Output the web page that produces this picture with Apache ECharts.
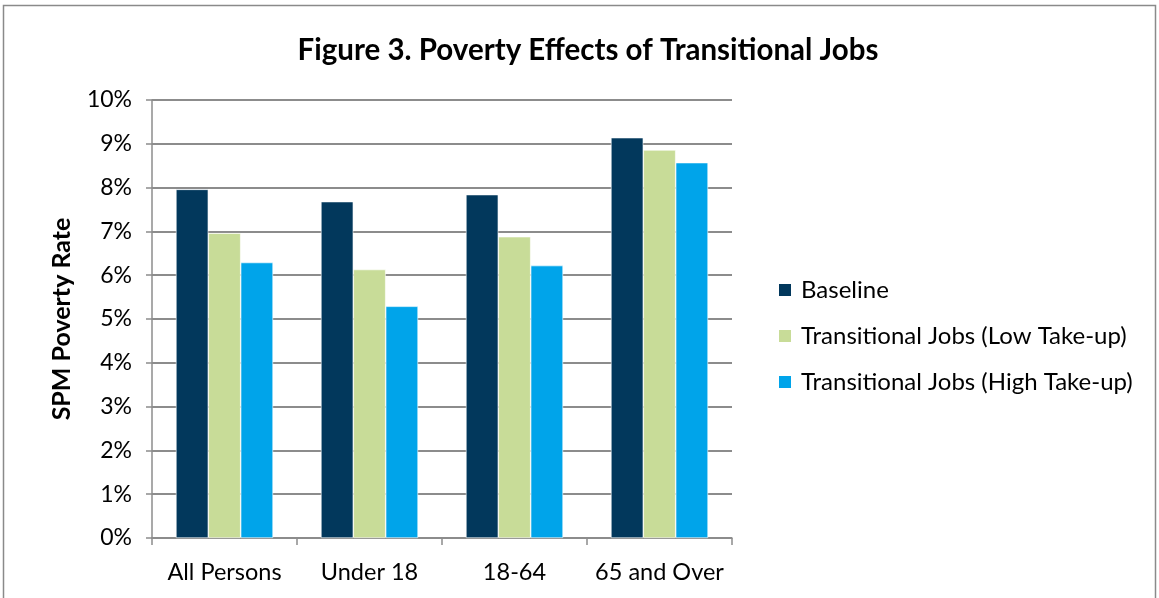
<!DOCTYPE html>
<html>
<head>
<meta charset="utf-8">
<script src="https://cdn.jsdelivr.net/npm/echarts@6/dist/echarts.min.js"></script>
<style>
  html, body { margin: 0; padding: 0; background: #fff; }
  #chart { width: 1159px; height: 598px; }
</style>
</head>
<body>
<div id="chart"></div>
<script>
// Age groups along the x axis
const categories = ['All Persons', 'Under 18', '18-64', '65 and Over'];

// SPM poverty rates, in percent
const baseline = [7.96, 7.68, 7.84, 9.14];
const lowTakeUp = [6.96, 6.13, 6.88, 8.86];
const highTakeUp = [6.29, 5.29, 6.22, 8.57];

const seriesNames = [
  'Baseline',
  'Transitional Jobs (Low Take-up)',
  'Transitional Jobs (High Take-up)'
];
const seriesColors = ['#02385C', '#C8DC98', '#00A4EA'];

const fontFamily = 'Lato, "Open Sans", sans-serif';
const gridGray = '#8C8C8C';

const chart = echarts.init(document.getElementById('chart'), null, { renderer: 'canvas' });

const makeBar = (name, data, color) => ({
  name: name,
  type: 'bar',
  data: data,
  barGap: '0%',
  barCategoryGap: '33%',
  itemStyle: { color: color, borderColor: '#ffffff', borderWidth: 0.6 }
});

chart.setOption({
  animation: false,
  backgroundColor: '#ffffff',
  textStyle: { fontFamily: fontFamily },
  graphic: [{
    type: 'rect',
    shape: { x: 3.5, y: 5.5, width: 1152, height: 620 },
    style: { fill: 'none', stroke: '#8A8A8A', lineWidth: 1.5 },
    silent: true
  }],
  title: {
    text: 'Figure 3. Poverty Effects of Transitional Jobs',
    left: 583,
    textAlign: 'center',
    top: 30,
    textStyle: { fontFamily: fontFamily, fontSize: 29.5, fontWeight: 'bold', color: '#000' }
  },
  legend: {
    orient: 'vertical',
    left: 772,
    top: 273,
    itemWidth: 14,
    itemHeight: 14,
    itemGap: 22,
    icon: 'rect',
    data: seriesNames,
    textStyle: { fontFamily: fontFamily, fontSize: 24, color: '#000', padding: [0, 0, 0, 4] }
  },
  grid: { left: 152, right: 427, top: 100, bottom: 60, containLabel: false },
  xAxis: {
    type: 'category',
    data: categories,
    axisLine: { show: true, lineStyle: { color: gridGray, width: 1.5 } },
    axisTick: { show: true, interval: 0, length: 7, lineStyle: { color: gridGray, width: 1.5 } },
    axisLabel: { interval: 0, hideOverlap: false, color: '#000', fontSize: 23.5, margin: 22, fontFamily: fontFamily }
  },
  yAxis: {
    type: 'value',
    min: 0,
    max: 10,
    interval: 1,
    name: 'SPM Poverty Rate',
    nameLocation: 'middle',
    nameGap: 78,
    nameRotate: 90,
    nameTextStyle: { fontSize: 25, fontWeight: 'bold', color: '#000', fontFamily: fontFamily },
    axisLine: { show: true, lineStyle: { color: gridGray, width: 1.5 } },
    axisTick: { show: true, length: 6, lineStyle: { color: gridGray, width: 1.5 } },
    axisLabel: {
      color: '#000', fontSize: 23, margin: 20, fontFamily: fontFamily,
      formatter: v => v + '%'
    },
    splitLine: { show: true, lineStyle: { color: gridGray, width: 1.8 } }
  },
  series: [
    makeBar(seriesNames[0], baseline, seriesColors[0]),
    makeBar(seriesNames[1], lowTakeUp, seriesColors[1]),
    makeBar(seriesNames[2], highTakeUp, seriesColors[2])
  ]
});
</script>
</body>
</html>
